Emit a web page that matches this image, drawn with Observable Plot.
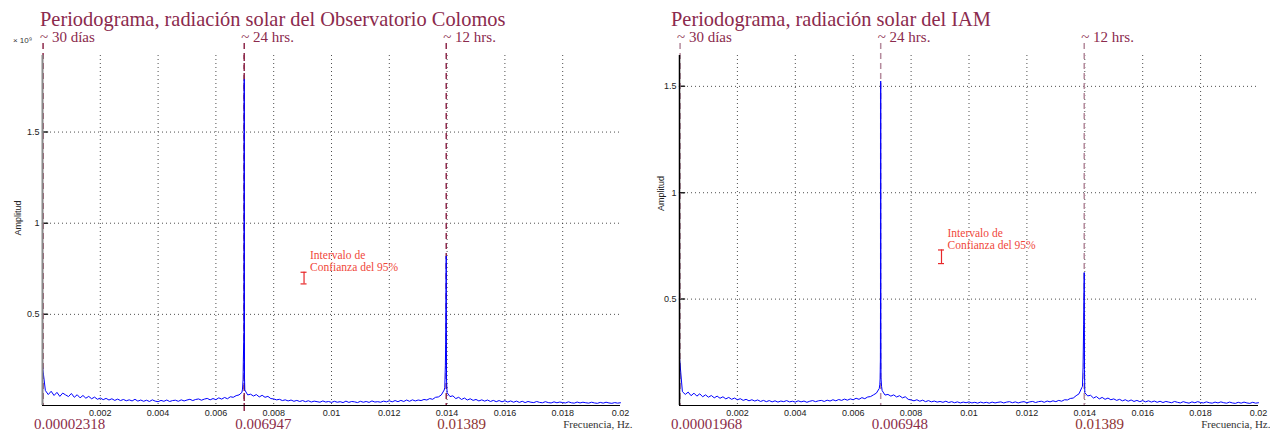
<!DOCTYPE html>
<html><head><meta charset="utf-8">
<script src="https://cdn.jsdelivr.net/npm/d3@7"></script>
<script src="https://cdn.jsdelivr.net/npm/@observablehq/plot@0.6"></script>
<style>
body{margin:0;background:#fff;width:1270px;height:432px;position:relative;overflow:hidden;}
.panel{position:absolute;top:0;}
.title{position:absolute;top:9px;font-family:"Liberation Serif",serif;font-size:20.4px;line-height:20px;color:#8b2a4d;white-space:nowrap;}
</style></head><body>
<div id="left" class="panel" style="left:0"></div>
<div id="right" class="panel" style="left:637px"></div>
<div class="title" style="left:40px">Periodograma, radiación solar del Observatorio Colomos</div>
<div class="title" style="left:671px">Periodograma, radiación solar del IAM</div>
<script>
// ---------- data ----------
const STEP = 0.0001; // spacing of the base spectrum samples (Hz)
const xTicks = [0.002,0.004,0.006,0.008,0.01,0.012,0.014,0.016,0.018,0.02];
const xGrid = [0.002,0.004,0.006,0.008,0.01,0.012,0.014,0.016,0.018];
const yTicks = [0.5,1,1.5];

// Observatorio Colomos (amplitude x 10^9)
const baseLeft = [
0.215,0.082,0.060,0.078,0.055,0.072,0.050,0.068,0.058,0.049,
0.066,0.045,0.059,0.042,0.055,0.040,0.050,0.037,0.046,0.034,
0.041,0.032,0.039,0.030,0.037,0.028,0.035,0.027,0.033,0.026,
0.031,0.025,0.034,0.024,0.030,0.023,0.029,0.022,0.031,0.024,
0.021,0.028,0.023,0.030,0.022,0.027,0.029,0.023,0.031,0.025,
0.030,0.034,0.027,0.033,0.036,0.029,0.035,0.039,0.031,0.038,
0.032,0.042,0.035,0.044,0.037,0.048,0.045,0.054,0.058,0.072,
0.085,0.058,0.062,0.052,0.060,0.047,0.056,0.045,0.050,0.038,
0.036,0.031,0.034,0.027,0.031,0.025,0.030,0.023,0.028,0.022,
0.027,0.021,0.026,0.019,0.024,0.021,0.018,0.025,0.019,0.022,
0.017,0.023,0.018,0.021,0.016,0.024,0.017,0.022,0.020,0.016,
0.023,0.018,0.022,0.017,0.025,0.019,0.021,0.018,0.024,0.020,
0.026,0.020,0.027,0.021,0.028,0.022,0.030,0.023,0.031,0.025,
0.030,0.027,0.033,0.030,0.038,0.034,0.045,0.047,0.058,0.085,
0.070,0.049,0.053,0.038,0.045,0.033,0.041,0.030,0.037,0.028,
0.033,0.025,0.031,0.024,0.030,0.022,0.028,0.021,0.027,0.020,
0.026,0.019,0.025,0.018,0.024,0.017,0.023,0.016,0.022,0.018,
0.016,0.022,0.017,0.015,0.021,0.016,0.014,0.020,0.015,0.019,
0.016,0.014,0.020,0.015,0.013,0.019,0.014,0.018,0.015,0.013,
0.018,0.014,0.012,0.017,0.013,0.018,0.014,0.012,0.016,0.013,0.015];
const peakFreqLeft = [0.00692,0.00694,0.00695,0.00697,0.00698,0.00699, 0.01392,0.01394,0.01395,0.01397,0.01398];
const peakAmpLeft  = [0.090,  0.140,  0.250,  0.400,  1.790,  0.150,   0.100,  0.220,  0.335,  0.820,  0.140];
const markFreqLeft = [0.00002, 0.00698, 0.01397];
const topLabelsLeft = ["~ 30 días","~ 24 hrs.","~ 12 hrs."];
const bottomLabelsLeft = ["0.00002318","0.006947","0.01389"];

// IAM
const baseRight = [
0.225,0.065,0.052,0.063,0.046,0.058,0.044,0.055,0.041,0.050,
0.039,0.047,0.036,0.044,0.034,0.041,0.031,0.038,0.029,0.035,
0.027,0.032,0.024,0.029,0.022,0.027,0.021,0.026,0.019,0.024,
0.018,0.023,0.017,0.022,0.016,0.021,0.018,0.023,0.017,0.020,
0.016,0.022,0.017,0.021,0.015,0.020,0.023,0.018,0.022,0.024,
0.019,0.025,0.021,0.027,0.022,0.028,0.024,0.030,0.025,0.031,
0.027,0.034,0.029,0.037,0.032,0.040,0.042,0.050,0.058,0.080,
0.070,0.049,0.052,0.044,0.050,0.040,0.046,0.036,0.041,0.029,
0.026,0.022,0.027,0.020,0.025,0.018,0.023,0.017,0.021,0.016,
0.019,0.015,0.020,0.014,0.018,0.013,0.017,0.012,0.016,0.013,
0.017,0.012,0.015,0.011,0.016,0.012,0.015,0.011,0.016,0.012,
0.015,0.017,0.012,0.016,0.018,0.013,0.017,0.012,0.016,0.018,
0.013,0.017,0.019,0.014,0.018,0.020,0.015,0.021,0.017,0.022,
0.018,0.024,0.020,0.027,0.026,0.033,0.035,0.046,0.055,0.085,
0.060,0.045,0.048,0.035,0.042,0.031,0.038,0.029,0.035,0.027,
0.031,0.024,0.029,0.022,0.027,0.020,0.026,0.019,0.024,0.018,
0.023,0.017,0.022,0.016,0.021,0.015,0.020,0.014,0.019,0.016,
0.013,0.019,0.015,0.012,0.018,0.014,0.011,0.017,0.013,0.018,
0.014,0.012,0.017,0.013,0.011,0.016,0.012,0.017,0.013,0.011,
0.016,0.012,0.010,0.015,0.011,0.016,0.012,0.010,0.015,0.011,0.013];
const peakFreqRight = [0.00692,0.00693,0.00694,0.006945,0.00695,0.006955,0.00696,0.00698, 0.01392,0.01394,0.01396,0.01398,0.01399];
const peakAmpRight  = [0.100,  0.125,  0.220,  0.555,   1.525,  0.400,   0.130,  0.090,   0.090,  0.180,  0.380,  0.625,  0.170];
const markFreqRight = [0.00002, 0.00695, 0.01398];
const topLabelsRight = ["~ 30 días","~ 24 hrs.","~ 12 hrs."];
const bottomLabelsRight = ["0.00001968","0.006948","0.01389"];

const ciX = 0.00905;
const ciLow = 0.667, ciHigh = 0.731;

// ---------- drawing ----------
const serif = "Liberation Serif";
const sans = "Liberation Sans";

function series(base, pf, pa) {
  const pts = base.map((a, i) => ({f: i * STEP, a}));
  pf.forEach((f, i) => pts.push({f, a: pa[i]}));
  return pts.sort((p, q) => p.f - q.f);
}

const tickShape = {draw(ctx, l) { ctx.moveTo(0, 0); ctx.lineTo(0, -l); }};

function panel(o) {
  const data = series(o.base, o.pf, o.pa);
  const marks = o.mf.map((f, i) => ({f, top: o.top[i], bottom: o.bottom[i]}));
  return Plot.plot({
    width: o.width, height: 432,
    marginLeft: 42, marginRight: o.mr, marginTop: 55, marginBottom: 27,
    style: {background: "transparent", fontFamily: sans, overflow: "visible"},
    x: {domain: [0, 0.02]},
    y: {domain: [0, o.ymax]},
    marks: [
      Plot.gridX(xGrid, {stroke: "#222", strokeOpacity: 0.8, strokeDasharray: "1,3"}),
      Plot.gridY(yTicks, {stroke: "#222", strokeOpacity: 0.8, strokeDasharray: "1,3"}),
      Plot.axisX({ticks: xTicks, tickSize: 0, tickPadding: 4, tickFormat: d3.format("~g"), fontSize: 9, fontFamily: sans, fill: "#222", label: null}),
      Plot.axisY({ticks: yTicks, tickSize: 0, tickPadding: 3, tickFormat: d3.format("~g"), fontSize: 9, fontFamily: sans, fill: "#222", label: null}),
      Plot.vector(yTicks, {x: 0, y: d => d, length: 5, rotate: 90, anchor: "start", shape: tickShape, stroke: "#222"}),
      Plot.ruleX(marks, {x: "f", stroke: o.dash, strokeWidth: 1.5, strokeDasharray: "6,4", insetTop: -12}),
      ...(o.extendBelow ? [Plot.ruleX([marks[1]], {x: "f", stroke: o.dash, strokeWidth: 1.5, strokeDasharray: "6,4", insetBottom: -10})] : []),
      Plot.line(data, {x: "f", y: "a", stroke: "#0000ff", strokeWidth: 1}),
      Plot.ruleY([0], {stroke: "#000", strokeWidth: 1}),
      Plot.ruleX([0], {stroke: o.axisColor, strokeWidth: o.axisWidth}),
      Plot.ruleX([ciX], {x: d => d, y1: ciLow, y2: ciHigh, stroke: "#e8282a", strokeWidth: 1.2}),
      Plot.ruleY([ciLow, ciHigh], {y: d => d, x1: ciX, x2: ciX, insetLeft: -3, insetRight: -3, stroke: "#e8282a", strokeWidth: 1.2}),
      Plot.text(["Intervalo de\nConfianza del 95%"], {x: ciX, y: ciHigh, text: d => d, dx: 6, dy: -22, textAnchor: "start", lineAnchor: "top", lineHeight: 1.05, fontSize: 11.5, fontFamily: serif, fill: "#f0473a"}),
      Plot.text(marks, {x: "f", text: "top", frameAnchor: "top", dx: -3, dy: -18, textAnchor: "start", lineAnchor: "middle", fontSize: 15, fontFamily: serif, fill: "#8b2a4d"}),
      Plot.text(marks, {x: "f", text: "bottom", frameAnchor: "bottom", dx: -9, dy: 19, textAnchor: "start", lineAnchor: "middle", fontSize: 15, fontFamily: serif, fill: (d, i) => i === 2 ? "#8e3232" : "#8b2c48"}),
      Plot.text(["Frecuencia, Hz."], {text: d => d, frameAnchor: "bottom-right", dx: 12, dy: 19, textAnchor: "end", lineAnchor: "middle", fontSize: 11, fontFamily: serif, fill: "#333"}),
      Plot.text(["Amplitud"], {text: d => d, frameAnchor: "left", dx: o.ylabDx, dy: o.ylabDy, rotate: -90, textAnchor: "middle", lineAnchor: "middle", fontSize: 9, fontFamily: sans, fill: "#222"}),
      ...(o.exp ? [Plot.text([o.exp], {text: d => d, frameAnchor: "top-left", dx: -20, dy: -15, textAnchor: "middle", lineAnchor: "middle", fontSize: 8, fontFamily: sans, fill: "#333"})] : [])
    ]
  });
}

document.getElementById("left").append(panel({
  width: 635, mr: 15, ymax: 1.92,
  base: baseLeft, pf: peakFreqLeft, pa: peakAmpLeft,
  mf: markFreqLeft, top: topLabelsLeft, bottom: bottomLabelsLeft,
  dash: "#8e2a4c", axisColor: "#8a8a8a", axisWidth: 2,
  ylabDx: -24.5, ylabDy: -12.5, exp: "× 10⁹", extendBelow: true
}));
document.getElementById("right").append(panel({
  width: 633, mr: 12, ymax: 1.645,
  base: baseRight, pf: peakFreqRight, pa: peakAmpRight,
  mf: markFreqRight, top: topLabelsRight, bottom: bottomLabelsRight,
  dash: "#b48a9c", axisColor: "#000", axisWidth: 1.5,
  ylabDx: -18, ylabDy: -37, exp: null, extendBelow: false
}));
</script>
</body></html>
